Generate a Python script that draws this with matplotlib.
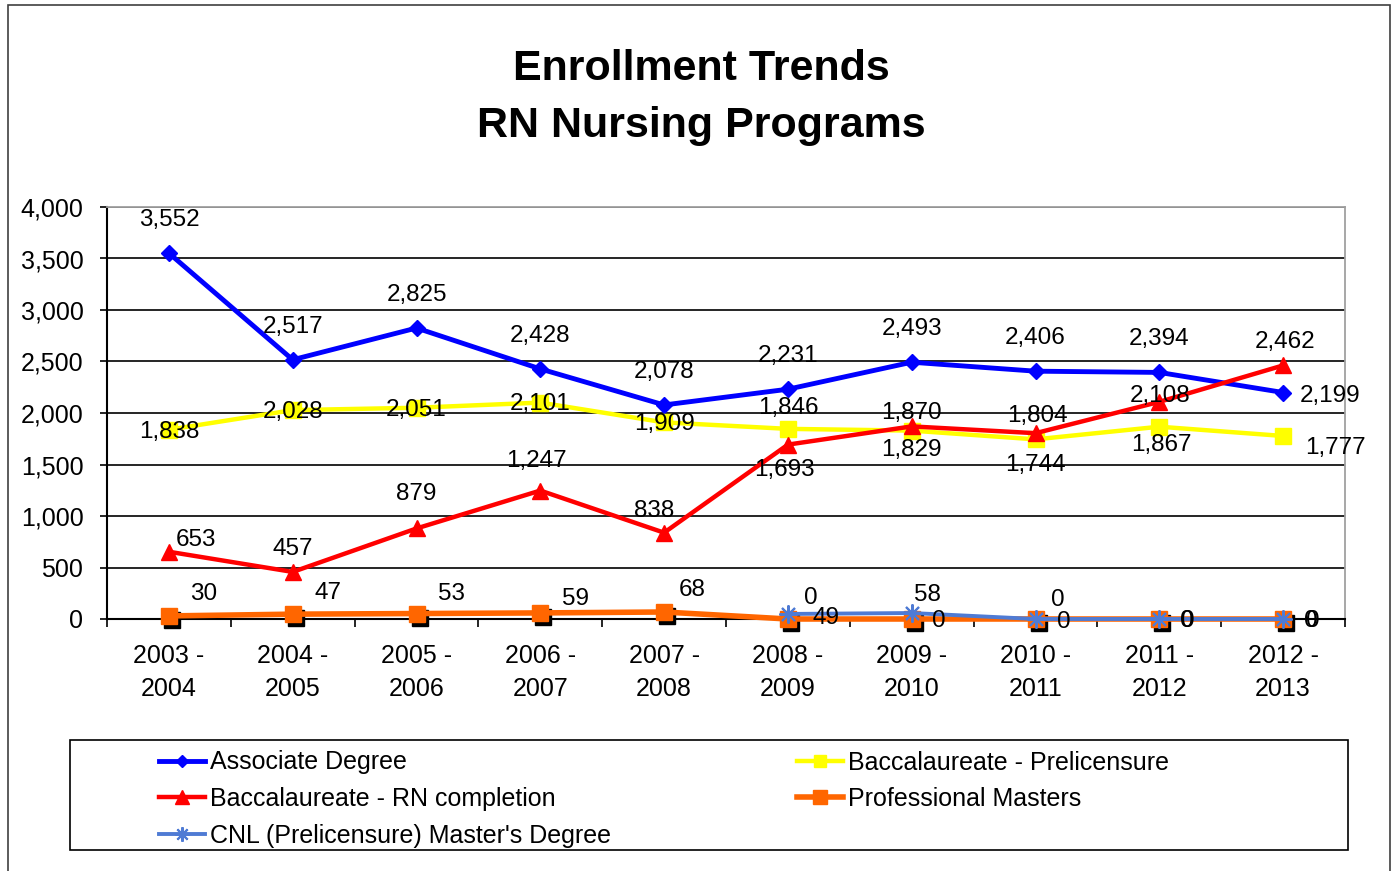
import numpy as np
import matplotlib
matplotlib.use("Agg")
import matplotlib.pyplot as plt
from matplotlib.patches import Rectangle
from matplotlib.transforms import ScaledTranslation

plt.rcParams['font.family'] = ['Liberation Sans', 'DejaVu Sans']

# data
years = ["2003 -\n2004", "2004 -\n2005", "2005 -\n2006", "2006 -\n2007", "2007 -\n2008",
         "2008 -\n2009", "2009 -\n2010", "2010 -\n2011", "2011 -\n2012", "2012 -\n2013"]
associate = [3552, 2517, 2825, 2428, 2078, 2231, 2493, 2406, 2394, 2199]
bacc_pre = [1838, 2028, 2051, 2101, 1909, 1846, 1829, 1744, 1867, 1777]
bacc_rn = [653, 457, 879, 1247, 838, 1693, 1870, 1804, 2108, 2462]
prof_masters = [30, 47, 53, 59, 68, 0, 0, 0, 0, 0]
cnl = [np.nan, np.nan, np.nan, np.nan, np.nan, 49, 58, 0, 0, 0]

# label offsets in pixels (dx, dy) from each point, as placed in the original
off_assoc = [(0, 33)] * 9 + [(47, -3)]
off_pre = [(0, -2), (0, -2), (0, -2), (0, -1), (0, -2), (0, 21), (0, -19), (0, -26), (2, -18), (52, -12)]
off_rn = [(27, 12), (0, 23), (0, 34), (-4, 30), (-10, 22), (-3, -25), (0, 13), (2, 17), (1, 6), (2, 23)]
off_prof = [(35, 22), (35, 21), (35, 20), (35, 14), (28, 22), (23, 21), (27, -2), (28, -3), (28, -2), (28, -2)]
off_cnl = [None] * 5 + [(38, -4), (16, 18), (22, 19), (29, -2), (30, -2)]

W, H = 1392, 871
fig = plt.figure(figsize=(W / 100, H / 100), dpi=100)
ax = fig.add_axes([107 / W, 1 - 619 / H, 1238 / W, 412 / H])

x = np.arange(len(years))

l1, = ax.plot(x, associate, color='#0000FF', lw=3.5, marker='D', ms=8, zorder=3,
              label='Associate Degree')
l2, = ax.plot(x, bacc_pre, color='#FFFF00', lw=3.2, marker='s', ms=11.5, zorder=3,
              label='Baccalaureate - Prelicensure')
l3, = ax.plot(x, bacc_rn, color='#FF0000', lw=3.2, marker='^', ms=12, zorder=3,
              label='Baccalaureate - RN completion')
# black drop shadow behind the orange squares
shadow = ax.transData + ScaledTranslation(3 / 100, -4 / 100, fig.dpi_scale_trans)
ax.plot(x, prof_masters, ls='none', marker='s', ms=12, color='black', transform=shadow,
        zorder=3, clip_on=False)
l4, = ax.plot(x, prof_masters, color='#FF6600', lw=4, marker='s', ms=12, zorder=3,
              label='Professional Masters', clip_on=False)
l5, = ax.plot(x, cnl, color='#4F7BD4', lw=2.8, marker=(8, 2, 0), ms=13, mew=1.5, zorder=3,
              label="CNL (Prelicensure) Master's Degree", clip_on=False)


def add_labels(vals, offs):
    for xi, v, o in zip(x, vals, offs):
        if o is None or np.isnan(v):
            continue
        ax.annotate(f"{int(v):,}", (xi, v), xytext=o, textcoords='offset pixels',
                    ha='center', va='center', fontsize=17.5, zorder=5, annotation_clip=False)


add_labels(associate, off_assoc)
add_labels(bacc_pre, off_pre)
add_labels(bacc_rn, off_rn)
add_labels(prof_masters, off_prof)
add_labels(cnl, off_cnl)

ax.set_xlim(-0.5, len(years) - 0.5)
ax.set_ylim(0, 4000)
ax.set_yticks(np.arange(0, 4001, 500))
ax.set_yticklabels([f"{t:,}" for t in range(0, 4001, 500)], fontsize=18)
ax.set_xticks(x)
ax.set_xticklabels(years, fontsize=18, linespacing=1.45)
ax.set_xticks(np.arange(-0.5, len(years)), minor=True)
ax.tick_params(axis='x', which='major', length=0, pad=18)
ax.tick_params(axis='x', which='minor', length=5.5, width=1.2, direction='out')
ax.tick_params(axis='y', length=5, width=1.2, pad=12)

ax.grid(axis='y', color='black', lw=1.2)
ax.set_axisbelow(True)
for s in ['left', 'bottom']:
    ax.spines[s].set_color('black')
    ax.spines[s].set_linewidth(1.5)
for s in ['top', 'right']:
    ax.spines[s].set_color('#A0A0A0')
    ax.spines[s].set_linewidth(1.3)

fig.text(701 / W, 1 - 80 / H, "Enrollment Trends", ha='center', va='baseline',
         fontsize=31, fontweight='bold')
fig.text(701 / W, 1 - 137 / H, "RN Nursing Programs", ha='center', va='baseline',
         fontsize=31, fontweight='bold')

# legend box and entries (row-major order like the original)
fig.patches.append(Rectangle((70 / W, 1 - 850 / H), 1278 / W, 110 / H, transform=fig.transFigure,
                             fill=False, edgecolor='black', lw=1.2))
fig.legend(handles=[l1, l3, l5, l2, l4], loc='upper left', ncol=2,
           bbox_to_anchor=(146 / W, 1 - 738 / H), bbox_transform=fig.transFigure,
           frameon=False, fontsize=18, borderpad=0, handlelength=1.84, handletextpad=0.24,
           labelspacing=0.5, columnspacing=7.4, markerscale=0.8)

# outer border
fig.patches.append(Rectangle((8 / W, -0.02), 1382 / W, 1.02 - 5 / H, transform=fig.transFigure,
                             fill=False, edgecolor='#404040', lw=1.2))

fig.savefig("out.png", dpi=100)
